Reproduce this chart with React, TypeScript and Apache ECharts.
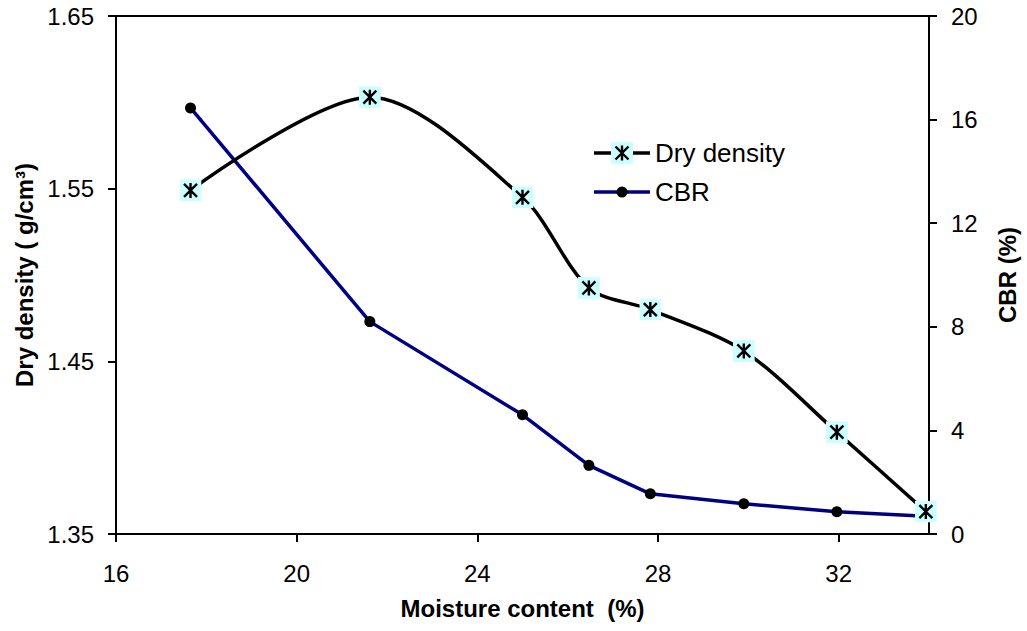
import React, { useEffect, useRef } from 'react';
import * as echarts from 'echarts';

// Data
const moisture = [17.65, 21.62, 25.0, 26.47, 27.83, 29.9, 31.96, 33.93];
const dryDensity = [1.549, 1.603, 1.545, 1.4925, 1.48, 1.456, 1.409, 1.363];
const cbr = [16.45, 8.2, 4.6, 2.65, 1.55, 1.17, 0.86, 0.69];

const seriesNames = ['Dry density', 'CBR'];
const xAxisName = 'Moisture content  (%)';
const yLeftName = 'Dry density ( g/cm³)';
const yRightName = 'CBR (%)';

const FONT = '"Liberation Sans", Arial, Helvetica, sans-serif';

const svgUri = (s: string) => 'image://data:image/svg+xml;charset=utf-8,' + encodeURIComponent(s);

const markerSvg =
  '<svg xmlns="http://www.w3.org/2000/svg" width="22" height="22" viewBox="0 0 22 22">' +
  '<rect x="0" y="0" width="22" height="22" fill="#CCFFFF"/>' +
  '<path d="M4.5 4.5L17.5 17.5M17.5 4.5L4.5 17.5M11 3.5V18.5" stroke="#000" stroke-width="2.4" fill="none"/>' +
  '</svg>';

const legendDrySvg =
  '<svg xmlns="http://www.w3.org/2000/svg" width="56" height="22" viewBox="0 0 56 22">' +
  '<line x1="0" y1="11" x2="56" y2="11" stroke="#000" stroke-width="3.5"/>' +
  '<rect x="17" y="0" width="22" height="22" fill="#CCFFFF"/>' +
  '<path d="M21.5 4.5L34.5 17.5M34.5 4.5L21.5 17.5M28 3.5V18.5" stroke="#000" stroke-width="2.4" fill="none"/>' +
  '</svg>';

const legendCbrSvg =
  '<svg xmlns="http://www.w3.org/2000/svg" width="56" height="22" viewBox="0 0 56 22">' +
  '<line x1="0" y1="11" x2="56" y2="11" stroke="#000080" stroke-width="3.5"/>' +
  '<circle cx="28" cy="11" r="5.5" fill="#000"/>' +
  '</svg>';

export default function App() {
  const ref = useRef<HTMLDivElement>(null);

  useEffect(() => {
    document.body.style.margin = '0';
    const chart = echarts.init(ref.current as HTMLDivElement, null, { renderer: 'svg' });

    const axisCommon = {
      axisLine: { show: true, lineStyle: { color: '#000', width: 2 } },
      axisTick: { show: true, inside: false, length: 8, lineStyle: { color: '#000', width: 2 } },
      splitLine: { show: false },
      nameTextStyle: { color: '#000', fontSize: 24, fontWeight: 'bold', fontFamily: FONT },
    };

    chart.setOption({
      animation: false,
      backgroundColor: '#fff',
      textStyle: { fontFamily: FONT },
      grid: {
        left: 116,
        right: 91,
        top: 16,
        bottom: 97,
        show: true,
        borderColor: '#000',
        borderWidth: 2,
        backgroundColor: 'transparent',
      },
      legend: {
        orient: 'vertical',
        left: 589,
        top: 135,
        itemWidth: 56,
        itemHeight: 22,
        itemGap: 13,
        textStyle: { color: '#000', fontSize: 26, fontFamily: FONT },
        data: [
          { name: seriesNames[0], icon: svgUri(legendDrySvg) },
          { name: seriesNames[1], icon: svgUri(legendCbrSvg) },
        ],
      },
      xAxis: {
        type: 'value',
        min: 16,
        max: 34,
        interval: 4,
        name: xAxisName,
        nameLocation: 'middle',
        nameGap: 62,
        ...axisCommon,
        axisLabel: {
          color: '#000',
          fontSize: 24,
          fontFamily: FONT,
          margin: 27,
          showMaxLabel: false,
        },
      },
      yAxis: [
        {
          type: 'value',
          position: 'left',
          min: 1.35,
          max: 1.65,
          interval: 0.1,
          name: yLeftName,
          nameLocation: 'middle',
          nameRotate: 90,
          nameGap: 78,
          ...axisCommon,
          axisLabel: {
            color: '#000',
            fontSize: 24,
            fontFamily: FONT,
            margin: 22,
            formatter: (v: number) => v.toFixed(2),
          },
        },
        {
          type: 'value',
          position: 'right',
          min: 0,
          max: 20,
          interval: 4,
          name: yRightName,
          nameLocation: 'middle',
          nameRotate: 90,
          nameGap: 66,
          ...axisCommon,
          axisLabel: {
            color: '#000',
            fontSize: 24,
            fontFamily: FONT,
            margin: 22,
          },
        },
      ],
      series: [
        {
          name: seriesNames[0],
          type: 'line',
          yAxisIndex: 0,
          smooth: 0.3,
          data: moisture.map((m, i) => [m, dryDensity[i]]),
          symbol: svgUri(markerSvg),
          symbolSize: 22,
          lineStyle: { color: '#000', width: 3.5 },
          itemStyle: { color: '#000' },
          z: 3,
        },
        {
          name: seriesNames[1],
          type: 'line',
          yAxisIndex: 1,
          smooth: false,
          data: moisture.map((m, i) => [m, cbr[i]]),
          symbol: 'circle',
          symbolSize: 11,
          lineStyle: { color: '#000080', width: 3.5 },
          itemStyle: { color: '#000' },
          z: 2,
        },
      ],
    });

    return () => chart.dispose();
  }, []);

  return (
    <div
      ref={ref}
      style={{ width: 1027, height: 631, position: 'absolute', left: 0, top: 0 }}
    />
  );
}
